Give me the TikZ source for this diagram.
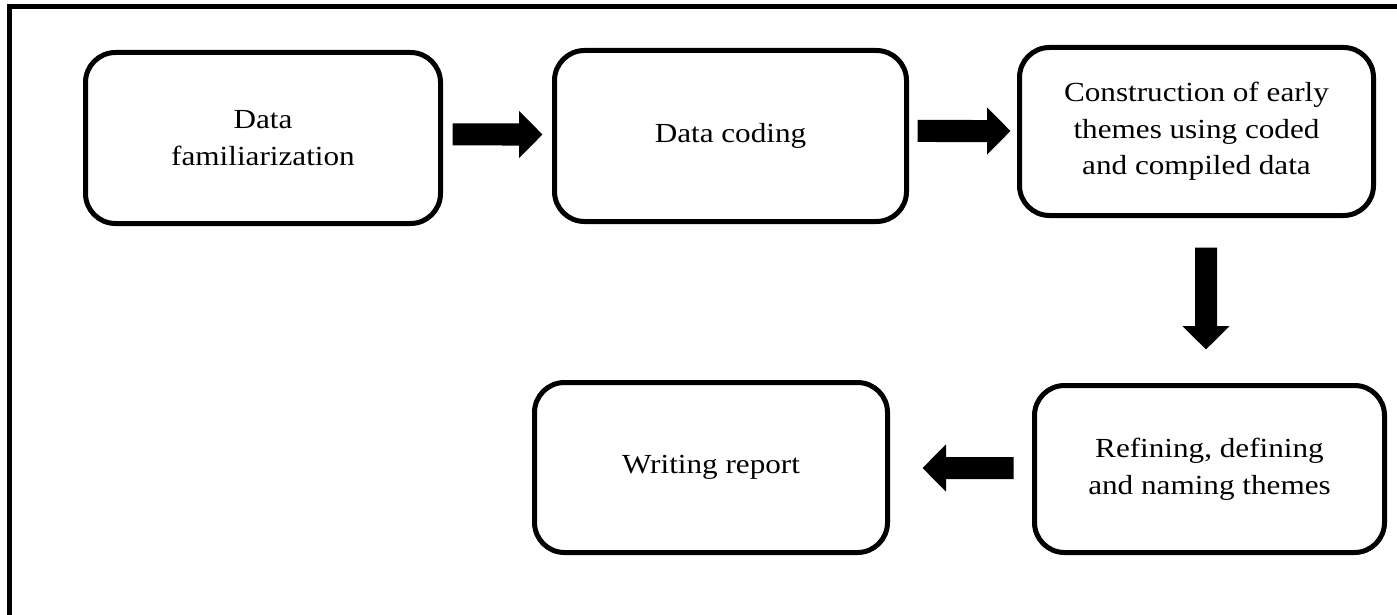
\documentclass[tikz,border=0pt]{standalone}
\usepackage{fontspec}
\setmainfont{Liberation Serif}[FakeStretch=1.13]
\usetikzlibrary{arrows.meta}

\begin{document}
\begin{tikzpicture}[font=\fontsize{15.7}{20.8}\selectfont]
        \tikzset{box/.style={draw, line width=0.1cm, rounded corners=0.6cm, align=center},
                 blockarrow/.style={line width=0.44cm, -{Triangle[length=0.47cm, width=0.92cm]}}}

        \useasboundingbox (0,0) rectangle (27.94,-12.3);
        \draw[line width=0.1cm] (0.19,-12.4) -- (0.19,-0.14) -- (28.1,-0.14);

        \node[box, minimum width=7.1cm, minimum height=3.42cm] (fam) at (5.26,-2.76) {Data\\familiarization};
        \node[box, minimum width=7.04cm, minimum height=3.42cm] (coding) at (14.61,-2.72) {Data coding};
        \node[box, minimum width=7.08cm, minimum height=3.36cm] (early) at (23.93,-2.63) {Construction of early\\themes using coded\\and compiled data};
        \node[box, minimum width=7.0cm, minimum height=3.34cm] (refine) at (24.19,-9.38) {Refining, defining\\and naming themes};
        \node[box, minimum width=7.06cm, minimum height=3.4cm] (report) at (14.22,-9.35) {Writing report};

        \draw[blockarrow] ([xshift=0.19cm,yshift=0.07cm]fam.east) -- ([xshift=-0.19cm,yshift=0.03cm]coding.west);
        \draw[blockarrow] ([xshift=0.17cm,yshift=0.1cm]coding.east) -- ([xshift=-0.13cm,yshift=0.01cm]early.west);
        \draw[blockarrow] ([xshift=0.19cm,yshift=-0.59cm]early.south) -- ([xshift=-0.07cm,yshift=0.67cm]refine.north);
        \draw[blockarrow] ([xshift=-0.37cm,yshift=0.02cm]refine.west) -- ([xshift=0.65cm,yshift=-0.01cm]report.east);
    \end{tikzpicture}
\end{document}
